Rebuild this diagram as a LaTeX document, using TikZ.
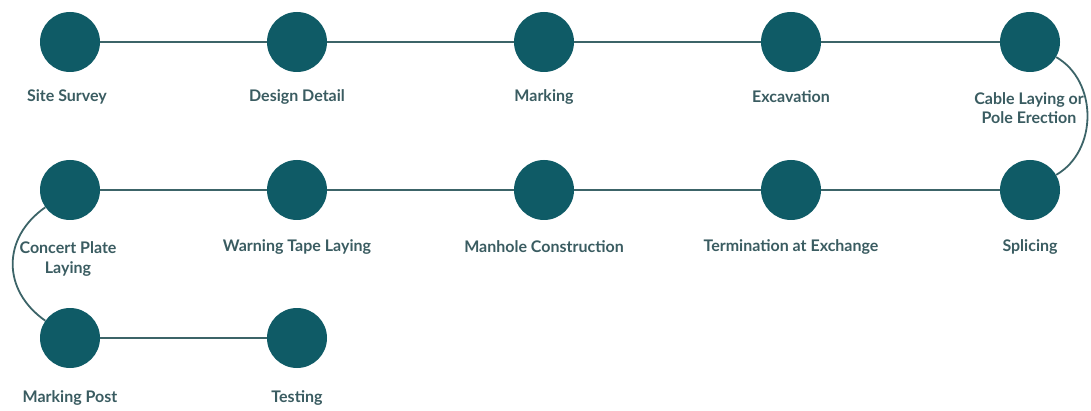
\documentclass[tikz,border=0pt]{standalone}
\usepackage{fontspec}
\setmainfont{Lato}
\usepackage{tikz}
\usetikzlibrary{positioning}
\definecolor{stepfill}{HTML}{0F5B66}
\definecolor{steptext}{HTML}{3A5C61}
\definecolor{stepline}{HTML}{3C6468}
\tikzset{
  stage/.style={circle, fill=stepfill, minimum size=60pt, inner sep=0pt},
  caption/.style={text=steptext, font=\bfseries\fontsize{16}{19.5}\selectfont, align=center, inner sep=0pt},
  link/.style={stepline, line width=1.8pt}
}
\begin{document}
\begin{tikzpicture}[x=1pt, y=1pt]
    \useasboundingbox (0,0) rectangle (1091,-411);
    % first row
    \path (70,-42) node[stage] (S1) {}
     ++ (227,0) node[stage] (S2) {}
     ++ (247,0) node[stage] (S3) {}
     ++ (247,0) node[stage] (S4) {}
     ++ (239,0) node[stage] (S5) {};
    % second row
    \path (70,-190) node[stage] (S6) {}
     ++ (227,0) node[stage] (S7) {}
     ++ (247,0) node[stage] (S8) {}
     ++ (247,0) node[stage] (S9) {}
     ++ (239,0) node[stage] (S10) {};
    % third row
    \path (70,-338) node[stage] (S11) {}
     ++ (227,0) node[stage] (S12) {};
    % captions
    \node[caption] (L1) at (67,-97) {Site Survey};
    \node[caption] (L2) at (297,-97) {Design Detail};
    \node[caption] (L3) at (544,-97) {Marking};
    \node[caption] (L4) at (791,-97) {Excavation};
    \node[caption] (L5) at (1029,-108) {Cable Laying or\\Pole Erection};
    \node[caption] (L6) at (68,-259) {Concert Plate\\Laying};
    \node[caption] (L7) at (297,-247) {Warning Tape Laying};
    \node[caption] (L8) at (544,-247) {Manhole Construction};
    \node[caption] (L9) at (791,-247) {Termination at Exchange};
    \node[caption] (L10) at (1030,-247) {Splicing};
    \node[caption] (L11) at (70,-398) {Marking Post};
    \node[caption] (L12) at (297,-398) {Testing};
    % connectors
    \draw[link] (S1) -- (S2) -- (S3) -- (S4) -- (S5);
    \draw[link] (S10) -- (S9) -- (S8) -- (S7) -- (S6);
    \draw[link] (S11) -- (S12);
    \draw[link] (S5.-30) to[out=-30, in=30, looseness=1.05] (S10.30);
    \draw[link] (S6.215) to[out=215, in=145, looseness=1.2] (S11.145);
\end{tikzpicture}
\end{document}
